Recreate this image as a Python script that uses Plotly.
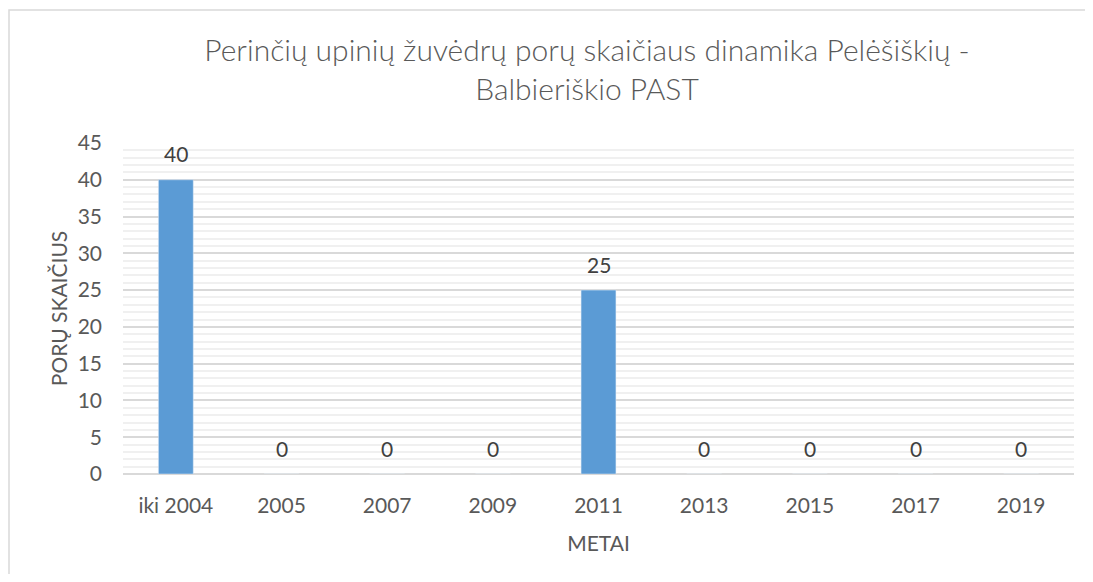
import plotly.graph_objects as go

categories = ["iki 2004", "2005", "2007", "2009", "2011", "2013", "2015", "2017", "2019"]
pairs = [40, 0, 0, 0, 25, 0, 0, 0, 0]

title_text = "Perinčių upinių žuvėdrų porų skaičiaus dinamika Pelėšiškių -<br>Balbieriškio PAST"
font_family = "Lato"
txt_color = "#595959"

fig = go.Figure(go.Bar(
    x=categories, y=pairs,
    marker=dict(color="#5b9bd5"),
    cliponaxis=False,
))

# data labels (x given as category index, since labels look numeric)
for i, v in enumerate(pairs):
    fig.add_annotation(x=i, y=v, xref="x", yref="y", text=str(v), showarrow=False,
                       yanchor="middle", yshift=26,
                       font=dict(size=21, color="#404040", family=font_family))

fig.update_layout(
    width=1077, height=566,
    margin=dict(l=115, r=11, t=135, b=100, pad=0),
    paper_bgcolor="white", plot_bgcolor="white",
    bargap=0.67,
    showlegend=False,
    title=dict(text=title_text, x=0.5376, xanchor="center", y=0.907, yanchor="middle",
               font=dict(size=30, color=txt_color, family=font_family, weight=300)),
    font=dict(family=font_family, color=txt_color),
    xaxis=dict(
        type="category",
        categoryorder="array", categoryarray=categories,
        range=[-0.5, len(categories) - 0.5],
        title=dict(text="METAI", font=dict(size=21, color=txt_color), standoff=20),
        tickfont=dict(size=21, color=txt_color),
        showgrid=False, showline=False, ticks="",
        ticklabelstandoff=17,
    ),
    yaxis=dict(
        title=dict(text="PORŲ SKAIČIUS", font=dict(size=21, color=txt_color), standoff=4),
        range=[0, 45], dtick=5, tick0=0,
        tickfont=dict(size=21, color=txt_color),
        showgrid=True, gridcolor="#d9d9d9", gridwidth=1.5,
        zeroline=True, zerolinecolor="#d9d9d9", zerolinewidth=1.5,
        showline=False, ticks="",
        minor=dict(dtick=1, showgrid=True, gridcolor="#f0f0f0", gridwidth=1.5),
        ticklabelstandoff=20,
    ),
    shapes=[dict(type="rect", xref="paper", yref="paper",
                 x0=(9 - 123) / 951, x1=(1100 - 123) / 951,
                 y0=(474 - 590) / 331, y1=(474 - 10) / 331,
                 line=dict(color="#d9d9d9", width=1.5), fillcolor="rgba(0,0,0,0)", layer="below")],
)

fig.write_html("out.html")
